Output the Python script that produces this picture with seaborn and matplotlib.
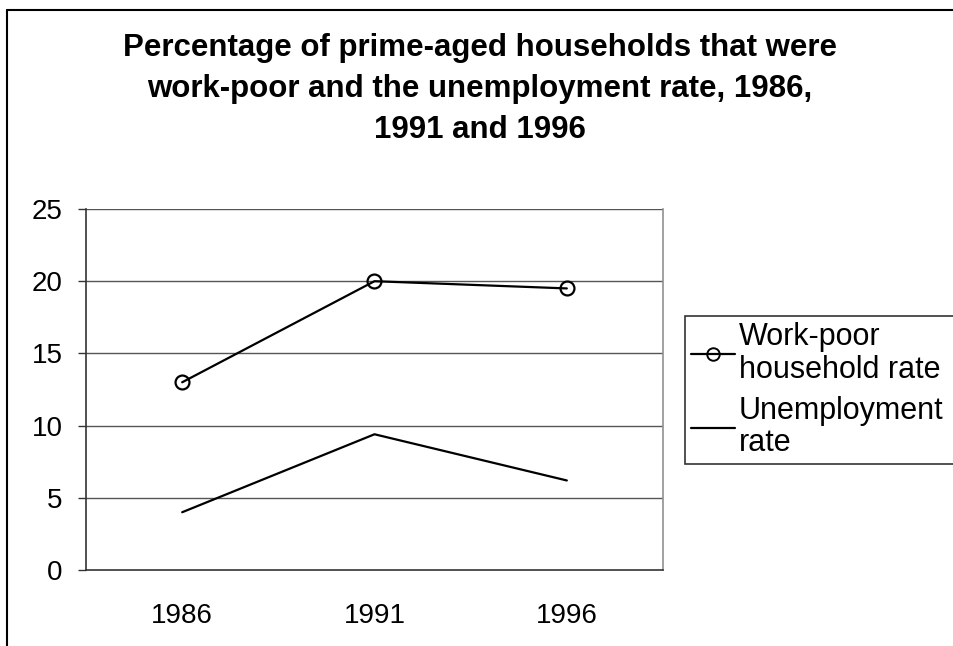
import matplotlib
matplotlib.use("Agg")
import matplotlib.pyplot as plt
from matplotlib.lines import Line2D
import seaborn as sns
import pandas as pd

years = ["1986", "1991", "1996"]
work_poor_rate = [13.0, 20.0, 19.5]
unemployment_rate = [4.0, 9.4, 6.2]
series_names = ["Work-poor\nhousehold rate", "Unemployment\nrate"]
y_ticks = [0, 5, 10, 15, 20, 25]
title_text = ("Percentage of prime-aged households that were\n"
              "work-poor and the unemployment rate, 1986,\n"
              "1991 and 1996")

sns.set_style("white")
plt.rcParams["font.family"] = ["Liberation Sans", "DejaVu Sans"]
plt.rcParams["text.color"] = "black"
plt.rcParams["xtick.color"] = "black"
plt.rcParams["ytick.color"] = "black"

W, H = 954, 646
fig = plt.figure(figsize=(W / 100, H / 100), dpi=100)
ax = fig.add_axes([86 / W, 1 - 570 / H, (663 - 86) / W, (570 - 209) / H])

pos = list(range(len(years)))
df = pd.DataFrame({"pos": pos, "work": work_poor_rate, "unemp": unemployment_rate})

sns.lineplot(data=df, x="pos", y="work", ax=ax, color="black", lw=1.6,
             marker="o", markersize=10, markerfacecolor="none",
             markeredgecolor="black", markeredgewidth=1.6)
sns.lineplot(data=df, x="pos", y="unemp", ax=ax, color="black", lw=1.6)

ax.set_xlim(-0.5, len(years) - 0.5)
ax.set_ylim(0, 25)
ax.set_xlabel("")
ax.set_ylabel("")

# horizontal gridlines
ax.set_yticks(y_ticks)
ax.set_yticklabels([str(t) for t in y_ticks], fontsize=20)
for t in y_ticks[1:]:
    ax.axhline(t, color="#555555", lw=1.0, zorder=0)

# category labels centred, tick marks on category boundaries
ax.set_xticks(pos)
ax.set_xticklabels(years, fontsize=20)
ax.set_xticks([p - 0.5 for p in pos] + [pos[-1] + 0.5], minor=True)
ax.tick_params(axis="x", which="major", length=0, pad=24)
ax.tick_params(axis="x", which="minor", length=6, width=1, color="#333333", direction="out")
ax.tick_params(axis="y", which="major", length=6, width=1, color="#333333",
               direction="out", pad=11, left=True)

for side in ["left", "bottom"]:
    ax.spines[side].set_color("#333333")
    ax.spines[side].set_linewidth(1.2)
ax.spines["right"].set_color("#909090")
ax.spines["right"].set_linewidth(1.2)
ax.spines["top"].set_visible(False)

fig.text(0.503, 1 - 33 / H, title_text, ha="center", va="top",
         fontsize=22.5, fontweight="bold", linespacing=1.47)

# outer chart frame
fig.add_artist(Line2D([7 / W, 7 / W], [0, 1 - 10 / H], color="black", lw=1.5,
                      transform=fig.transFigure))
fig.add_artist(Line2D([7 / W, 1.0], [1 - 10 / H, 1 - 10 / H], color="black", lw=1.5,
                      transform=fig.transFigure))

handles = [
    Line2D([], [], color="black", lw=1.6, marker="o", markersize=9,
           markerfacecolor="none", markeredgewidth=1.4),
    Line2D([], [], color="black", lw=1.6),
]
leg_top = 1 - 316 / H
leg_h = (463 - 316) / H
leg = fig.legend(handles, series_names, loc="upper left", mode="expand",
                 bbox_to_anchor=(685 / W, leg_top - leg_h, (990 - 685) / W, leg_h),
                 fontsize=22, frameon=True, fancybox=False, edgecolor="black",
                 handlelength=1.45, handletextpad=0.12, borderpad=0.2,
                 labelspacing=0.35, borderaxespad=0)
for txt in leg.get_texts():
    txt.set_linespacing(1.12)
leg.get_frame().set_linewidth(1.2)

fig.savefig("out.png", dpi=100, facecolor="white")
